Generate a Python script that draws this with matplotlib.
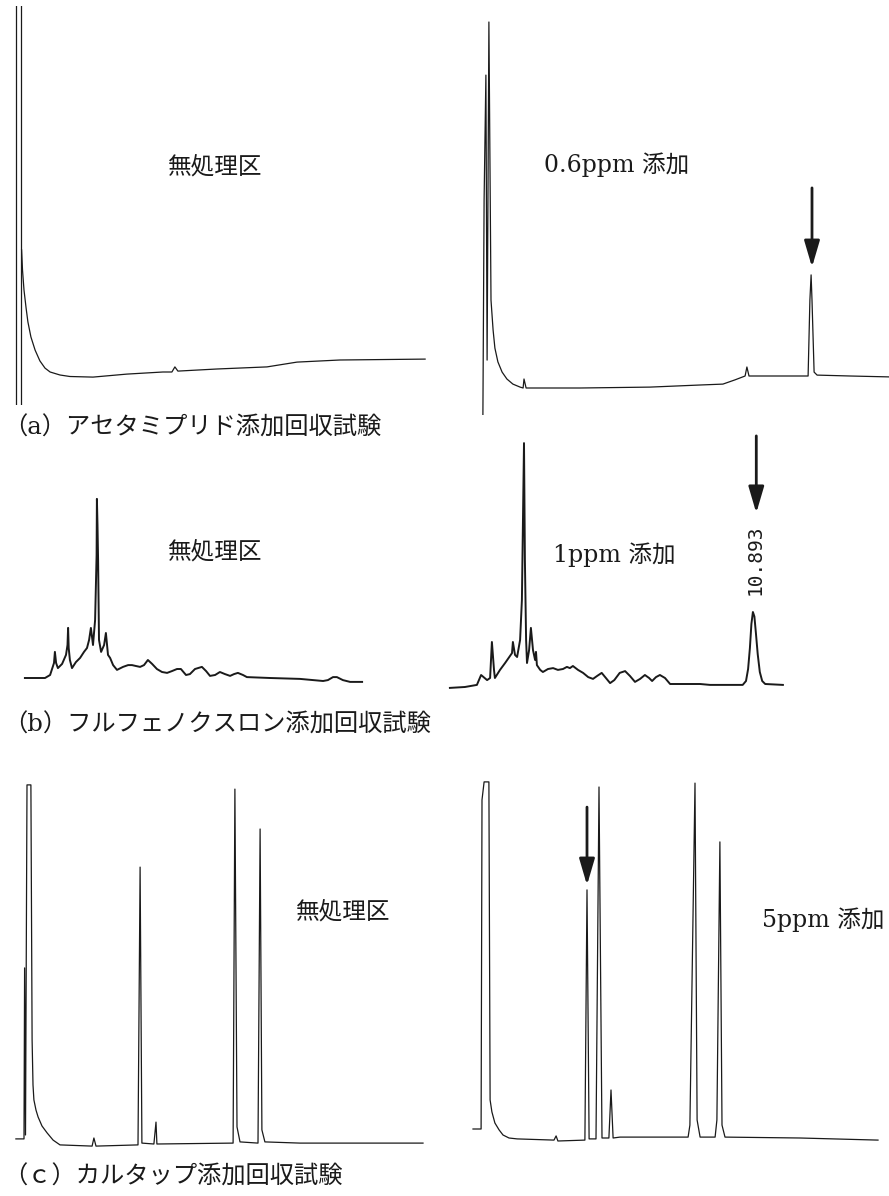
import matplotlib
matplotlib.use("Agg")
from matplotlib import pyplot as plt

W, H = 889, 1196
plt.rcParams['font.family'] = ['DejaVu Serif', 'Noto Sans CJK JP']

# traces: retention time (min) / response (mV)
# (a) acetamiprid, blank -- solvent front is off scale, drawn as two edges
a_blank_edges = [0.53, 0.70]
a_blank_t = [0.72, 0.75, 0.80, 0.87, 0.93, 1.03, 1.17, 1.33, 1.50, 1.67,
             2.00, 2.33, 3.10, 4.23, 5.43, 5.73, 5.83, 5.93, 7.23, 8.90,
             9.90, 11.33, 14.17]
a_blank_r = [51.7, 45.0, 38.3, 32.3, 27.7, 22.7, 18.3, 14.7, 12.3, 11.0,
             10.0, 9.5, 9.3, 10.3, 11.0, 11.0, 12.7, 11.3, 12.0, 12.7,
             14.3, 15.0, 15.3]

# (a) acetamiprid, 0.6 ppm spiked
a_spike_t = [1.43, 1.47, 1.53, 1.57, 1.63, 1.70, 1.77, 1.83, 1.93, 2.07,
             2.23, 2.43, 2.67, 2.77, 2.80, 2.87, 4.67, 7.00, 8.67, 9.43,
             9.83, 10.17, 10.23, 10.30, 11.67, 12.27, 12.33, 12.37, 12.40, 12.47,
             12.57, 13.67, 14.97]
a_spike_r = [0.0, 71.7, 113.3, 18.3, 131.0, 38.3, 28.3, 22.3, 17.7, 14.3,
             12.0, 10.3, 9.3, 9.0, 12.0, 9.0, 9.0, 9.3, 10.0, 10.3,
             11.7, 13.0, 16.0, 13.0, 13.0, 13.0, 38.3, 46.7, 38.3, 14.3,
             13.3, 13.0, 12.7]
a_target_t = 12.40

# (b) flufenoxuron, blank
b_blank_t = [0.83, 1.50, 1.67, 1.80, 1.83, 1.87, 1.93, 2.07, 2.20, 2.25,
             2.27, 2.29, 2.33, 2.40, 2.53, 2.67, 2.80, 2.90, 2.97, 3.03,
             3.10, 3.17, 3.22, 3.23, 3.25, 3.27, 3.30, 3.37, 3.47, 3.53,
             3.60, 3.67, 3.77, 3.90, 4.10, 4.27, 4.40, 4.53, 4.67, 4.80,
             4.93, 5.07, 5.23, 5.40, 5.57, 5.73, 5.90, 6.03, 6.20, 6.33,
             6.50, 6.73, 6.87, 7.00, 7.17, 7.33, 7.50, 7.67, 7.80, 7.93,
             8.10, 8.23, 9.00, 10.00, 10.77, 10.93, 11.10, 11.23, 11.43, 11.67,
             12.07]
b_blank_r = [4.0, 4.0, 5.0, 9.0, 12.7, 9.0, 7.3, 8.7, 11.7, 15.0,
             20.7, 14.0, 10.0, 7.3, 9.3, 10.7, 12.7, 14.0, 16.7, 20.7,
             15.0, 23.3, 45.0, 63.7, 55.0, 43.3, 16.7, 12.7, 15.0, 19.0,
             11.7, 10.7, 8.3, 6.7, 7.7, 8.3, 8.3, 8.0, 7.7, 8.3,
             10.0, 8.7, 7.0, 6.0, 5.7, 6.3, 7.0, 7.0, 5.0, 5.3,
             7.0, 7.7, 6.3, 4.7, 5.0, 6.0, 5.3, 4.7, 5.3, 5.7,
             5.0, 4.3, 4.0, 3.7, 3.0, 3.3, 4.3, 4.3, 3.3, 2.7,
             2.7]

# (b) flufenoxuron, 1 ppm spiked
b_spike_t = [0.79, 1.29, 1.69, 1.83, 2.03, 2.13, 2.19, 2.26, 2.29, 2.46,
             2.63, 2.79, 2.86, 2.89, 2.96, 3.03, 3.13, 3.19, 3.26, 3.29,
             3.33, 3.36, 3.43, 3.49, 3.56, 3.63, 3.66, 3.69, 3.80, 3.89,
             4.06, 4.23, 4.39, 4.56, 4.69, 4.79, 4.89, 5.06, 5.23, 5.40,
             5.56, 5.70, 5.85, 5.99, 6.13, 6.27, 6.45, 6.63, 6.79, 6.96,
             7.13, 7.29, 7.43, 7.53, 7.66, 7.79, 7.96, 8.13, 9.13, 9.46,
             10.23, 10.55, 10.66, 10.73, 10.79, 10.84, 10.89, 10.94, 10.99, 11.05,
             11.12, 11.20, 11.30, 11.89]
b_spike_r = [0.7, 1.0, 1.7, 5.0, 3.3, 4.0, 16.0, 6.7, 4.0, 6.7,
             9.0, 11.3, 12.3, 16.0, 11.7, 11.0, 16.7, 30.0, 82.3, 43.3,
             16.7, 9.0, 13.3, 20.7, 13.3, 10.0, 12.7, 8.3, 6.7, 6.0,
             7.0, 7.3, 6.7, 7.0, 7.7, 7.3, 8.0, 6.7, 5.7, 4.3,
             3.7, 4.7, 5.7, 4.0, 2.3, 3.3, 5.7, 6.3, 4.7, 2.7,
             3.7, 5.0, 4.0, 3.0, 4.3, 5.0, 4.0, 2.0, 2.0, 1.7,
             1.7, 1.7, 3.0, 7.0, 14.0, 22.0, 26.0, 24.5, 19.0, 12.0,
             6.0, 3.0, 2.0, 1.7]
b_target_t = 10.893

# (c) cartap, blank
c_blank_t = [0.53, 0.80, 0.82, 0.85, 0.90, 1.03, 1.07, 1.10, 1.13, 1.20,
             1.27, 1.40, 1.57, 1.77, 2.00, 3.07, 3.13, 3.20, 4.60, 4.67,
             4.73, 5.13, 5.20, 5.23, 7.77, 7.83, 7.90, 8.00, 8.60, 8.67,
             8.73, 8.83, 10.00, 14.10]
c_blank_r = [3.7, 3.7, 60.7, 5.0, 121.7, 121.7, 36.7, 21.7, 16.7, 13.3,
             11.0, 8.0, 5.7, 3.3, 1.7, 1.3, 4.0, 1.3, 1.7, 94.3,
             2.3, 2.0, 9.3, 2.0, 2.3, 120.3, 7.7, 2.7, 2.3, 107.0,
             6.7, 2.7, 2.3, 2.3]

# (c) cartap, 5 ppm spiked
c_spike_t = [1.10, 1.37, 1.40, 1.47, 1.63, 1.67, 1.73, 1.83, 1.97, 2.10,
             2.30, 2.57, 3.80, 3.87, 3.93, 4.83, 4.90, 4.97, 5.20, 5.30,
             5.40, 5.63, 5.70, 5.77, 6.00, 8.27, 8.33, 8.50, 8.57, 8.67,
             9.17, 9.23, 9.33, 9.40, 9.50, 12.00, 14.60]
c_spike_r = [7.0, 7.0, 116.7, 122.7, 122.7, 16.7, 12.7, 9.0, 6.7, 5.0,
             4.0, 3.7, 3.3, 4.7, 3.0, 3.3, 86.7, 3.7, 3.7, 121.0,
             4.0, 4.0, 20.0, 4.0, 4.3, 4.3, 8.3, 122.3, 10.0, 4.3,
             4.3, 10.0, 102.7, 8.3, 4.3, 4.0, 3.3]
c_target_t = 4.90

captions = ["（a）アセタミプリド添加回収試験",
            "（b）フルフェノクスロン添加回収試験",
            "（ｃ）カルタップ添加回収試験"]

INK = "#1a1a1a"
PX_MIN, PX_MV = 30, 3  # chart speed / attenuation in pixels

fig = plt.figure(figsize=(W / 100, H / 100), dpi=100)


def panel(left, bottom, tmax, rmax):
    w, h = tmax * PX_MIN, rmax * PX_MV
    ax = fig.add_axes([left / W, (H - bottom) / H, w / W, h / H])
    ax.set_xlim(0, tmax)
    ax.set_ylim(0, rmax)
    ax.axis("off")
    return ax


def arrow(ax, t, r_from, r_to):
    ax.annotate("", xy=(t, r_to), xytext=(t, r_from),
                arrowprops=dict(arrowstyle="-|>,head_length=1.6,head_width=0.47",
                                mutation_scale=10, lw=2, color=INK,
                                shrinkA=0, shrinkB=0))


label_kw = dict(fontsize=17, color=INK, ha="center", va="center")

# --- (a)
ax = panel(0, 405, 14.5, 133)
ax.vlines(a_blank_edges, 0, 140, color=INK, lw=0.9)
ax.plot(a_blank_t, a_blank_r, color=INK, lw=0.9)
ax.text(7.17, 79.3, "無処理区", **label_kw)

ax = panel(440, 415, 15.0, 132)
ax.plot(a_spike_t, a_spike_r, color=INK, lw=0.9)
ax.text(5.9, 83.3, "0.6ppm 添加", **label_kw)
arrow(ax, a_target_t, 75.7, 49.3)

# --- (b)
ax = panel(0, 690, 14.5, 70)
ax.plot(b_blank_t, b_blank_r, color=INK, lw=1.4)
ax.text(7.17, 46, "無処理区", **label_kw)

# left edge chosen so the 10.893 min peak lands under its printout
ax = panel(426.2, 690, 15.4, 90)
ax.plot(b_spike_t, b_spike_r, color=INK, lw=1.4)
ax.text(6.26, 45, "1ppm 添加", **label_kw)
ax.text(b_target_t + 0.07, 43.3, f"{b_target_t:.3f}", rotation=90, fontsize=14,
        family="DejaVu Sans Mono", color=INK, ha="center", va="center")
arrow(ax, b_target_t + 0.11, 84.7, 59)

# --- (c)
ax = panel(0, 1150, 14.5, 125)
ax.plot(c_blank_t, c_blank_r, color=INK, lw=0.9)
ax.text(11.43, 79.3, "無処理区", **label_kw)

ax = panel(440, 1150, 14.8, 126)
ax.plot(c_spike_t, c_spike_r, color=INK, lw=0.9)
ax.text(12.77, 76.7, "5ppm 添加", **label_kw)
arrow(ax, c_target_t, 114.3, 88.3)

for cap, y in zip(captions, [428, 725, 1177]):
    fig.text(3 / W, 1 - y / H, cap, fontsize=17.5, color=INK, ha="left", va="center")

fig.savefig("out.png", dpi=100, facecolor="white")
